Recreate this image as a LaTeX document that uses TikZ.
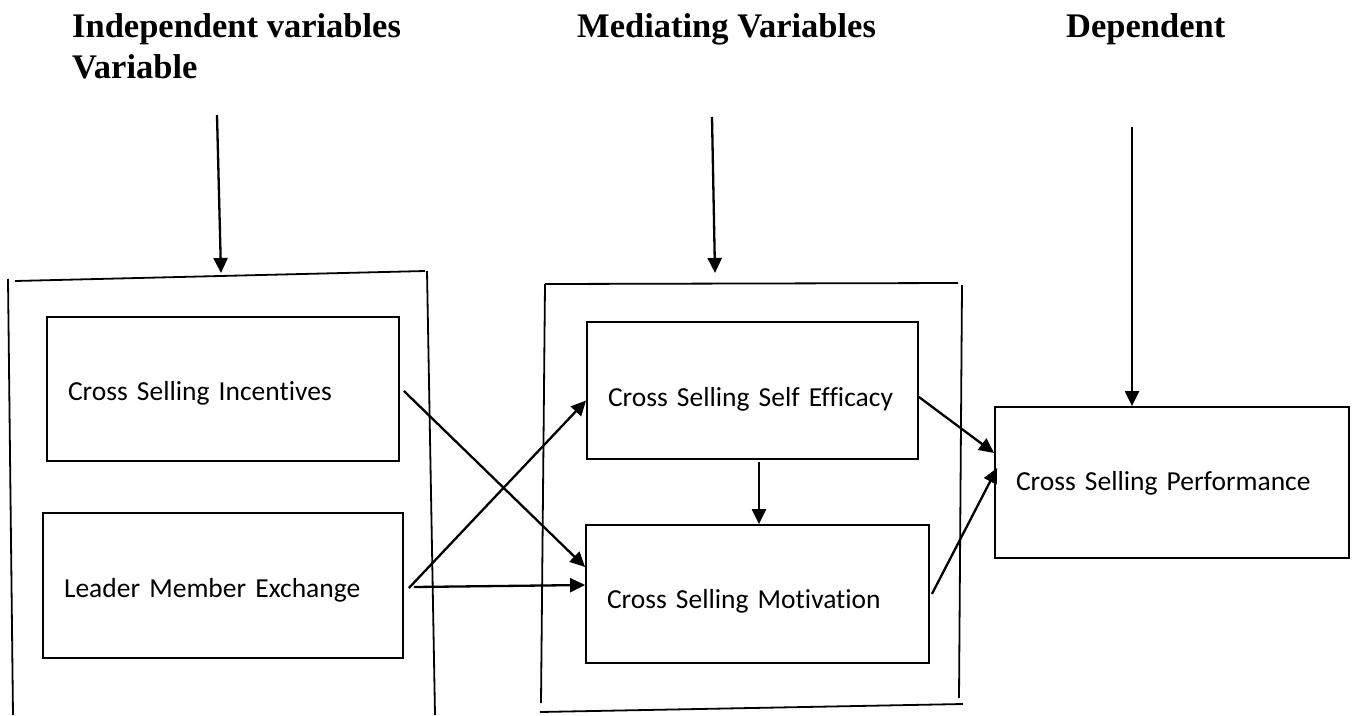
\documentclass[tikz,border=0pt]{standalone}
\usepackage{fontspec}
\setmainfont{Carlito}[Ligatures=NoCommon]
\newfontfamily\headfont{Liberation Serif}
\usetikzlibrary{arrows.meta}

\tikzset{
  varbox/.style={draw, line width=1.8pt, align=left, inner xsep=21pt, inner ysep=0pt,
                 text depth=0pt, font=\fontsize{27.5}{33}\selectfont},
  heading/.style={anchor=base west, align=left, inner sep=0pt,
                  font=\headfont\bfseries\fontsize{34.5}{41}\selectfont},
  link/.style={line width=2.3pt, -{Triangle[length=15pt,width=14pt]}},
  frame/.style={line width=1.8pt}
}

\begin{document}
\begin{tikzpicture}[x=1pt,y=-1pt]
\useasboundingbox (0,0) rectangle (1354,715);

\node[heading] (ivtitle) at (72,78) {Independent variables\\Variable};
\node[heading] (mvtitle) at (577,37) {Mediating Variables};
\node[heading] (dvtitle) at (1066,37) {Dependent};

\node[varbox, text width=310pt, minimum height=144pt, text height=22pt] (csi)  at (223,389)     {Cross Selling Incentives};
\node[varbox, text width=318pt, minimum height=145pt, text height=23pt] (lme)  at (223,585.5)   {Leader Member Exchange};
\node[varbox, text width=289pt, minimum height=137pt, text height=31pt] (csse) at (752.5,390.5) {Cross Selling Self Efficacy};
\node[varbox, text width=301pt, minimum height=138pt, text height=28pt] (csm)  at (757.5,594)   {Cross Selling Motivation};
\node[varbox, text width=312pt, minimum height=151pt, text height=15pt] (csp)  at (1172,482.5)  {Cross Selling Performance};

% frames
\draw[frame] (15,281) -- (425,271);
\draw[frame] (8,279) -- (13,715);
\draw[frame] (427,271) -- (435,715);
\draw[frame] (545,284) -- (958,283);
\draw[frame] (545,284) -- (541,703);
\draw[frame] (962,285) -- (959,698);
\draw[frame] (540,712) -- (963,704);

\coordinate (ivtop) at (217,115);
\coordinate (ivframe) at (221,273);
\coordinate (mvtop) at (712,117);
\coordinate (mvframe) at (715,273);
\coordinate (dvtop) at (1132,127);

\draw[link] (ivtop) -- (ivframe);
\draw[link] (mvtop) -- (mvframe);
\draw[link] (dvtop) -- (dvtop |- csp.north);

\draw[link] ([shift={(4pt,-2pt)}]csi.east) -- ([yshift=27pt]csm.west);
\draw[link] ([shift={(5pt,-2.5pt)}]lme.east) -- ([yshift=-10pt]csse.west);
\draw[link] ([shift={(10pt,-1.5pt)}]lme.east) -- ([yshift=9pt]csm.west);
\draw[link] ([shift={(6.5pt,-2pt)}]csse.south) -- ([xshift=1.5pt]csm.north);
\draw[link] ([yshift=-6.5pt]csse.east) -- ([yshift=29.5pt]csp.west);
\draw[link] ([xshift=2pt]csm.east) -- ([shift={(3pt,14.5pt)}]csp.west);
\end{tikzpicture}
\end{document}
